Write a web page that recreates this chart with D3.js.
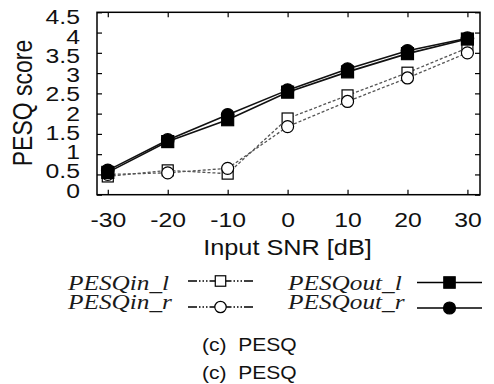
<!DOCTYPE html>
<html>
<head>
<meta charset="utf-8">
<script src="https://cdn.jsdelivr.net/npm/d3@7"></script>
<style>
  body { margin: 0; background: #fff; }
  svg { display: block; }
</style>
</head>
<body>
<div id="chart"></div>
<script>
// PESQ score vs input SNR

const SNR = [-30, -20, -10, 0, 10, 20, 30];
const PESQ_IN_L = [0.45, 0.60, 0.52, 1.88, 2.45, 3.01, 3.62];
const PESQ_IN_R = [0.50, 0.54, 0.65, 1.68, 2.30, 2.88, 3.50];
const PESQ_OUT_L = [0.55, 1.31, 1.85, 2.53, 3.03, 3.48, 3.84];
const PESQ_OUT_R = [0.60, 1.35, 1.97, 2.58, 3.10, 3.55, 3.86];
const Y_TICKS = [0, 0.5, 1, 1.5, 2, 2.5, 3, 3.5, 4, 4.5];

const FRAME_WIDTH = 494;
const FRAME_HEIGHT = 384;
const STRETCH = 1.18;   // the original figure is squeezed vertically

const X_SCALE = d3.scaleLinear().domain([-31.8, 32.1]).range([97, 480]);
const Y_SCALE = d3.scaleLinear().domain([0, 4.5]).range([194.7, 12.3]);
// tick labels sit a little tighter than the ticks
const Y_LABEL = d3.scaleLinear().domain([0, 4.5]).range([190.5, 17]);

const SVG = d3.select("#chart")
  .append("svg")
    .attr("width", FRAME_WIDTH)
    .attr("height", FRAME_HEIGHT);

const PLOT_L = X_SCALE.range()[0], PLOT_R = X_SCALE.range()[1];
const PLOT_T = Y_SCALE.range()[1], PLOT_B = Y_SCALE.range()[0];

// plain labels: "4" not "4.0", hyphen instead of unicode minus
const plain = (d) => String(d);

// ticks on all four sides, pointing inward
const xb = SVG.append("g")
  .attr("transform", "translate(0," + PLOT_B + ")")
  .call(d3.axisBottom(X_SCALE).tickValues(SNR).tickFormat(plain).tickSizeInner(-5).tickSizeOuter(0));
xb.selectAll("text")
  .attr("y", 0).attr("dy", 0)
  .attr("transform", "translate(0,32) scale(" + STRETCH + ",1)");

SVG.append("g")
  .attr("transform", "translate(0," + PLOT_T + ")")
  .call(d3.axisTop(X_SCALE).tickValues(SNR).tickSizeInner(-5).tickSizeOuter(0).tickFormat(""));

const yl = SVG.append("g")
  .attr("transform", "translate(" + PLOT_L + ",0)")
  .call(d3.axisLeft(Y_SCALE).tickValues(Y_TICKS).tickFormat(plain).tickSizeInner(-5).tickSizeOuter(0));
yl.selectAll("text")
  .attr("x", 0)
  .attr("transform", (d) => "translate(-17," + (Y_LABEL(d) - Y_SCALE(d)) + ") scale(" + STRETCH + ",1)");

SVG.append("g")
  .attr("transform", "translate(" + PLOT_R + ",0)")
  .call(d3.axisRight(Y_SCALE).tickValues(Y_TICKS).tickSizeInner(-5).tickSizeOuter(0).tickFormat(""));

SVG.selectAll(".domain").remove();
SVG.selectAll(".tick line").attr("stroke", "#000").attr("stroke-width", 1.2);
SVG.selectAll(".tick text")
  .attr("font-family", "'Liberation Sans', Arial, sans-serif")
  .attr("font-size", 21)
  .attr("fill", "#111");

// plot frame
SVG.append("rect")
  .attr("x", PLOT_L).attr("y", PLOT_T)
  .attr("width", PLOT_R - PLOT_L).attr("height", PLOT_B - PLOT_T)
  .attr("fill", "none").attr("stroke", "#000").attr("stroke-width", 1.5);

// axis titles
SVG.append("text")
  .attr("transform", "translate(287.5,255) scale(1.15,1)")
  .attr("text-anchor", "middle")
  .attr("font-family", "'Liberation Sans', Arial, sans-serif")
  .attr("font-size", 22)
  .attr("fill", "#111")
  .text("Input SNR [dB]");

SVG.append("text")
  .attr("transform", "translate(32,103) rotate(-90) scale(1," + STRETCH + ")")
  .attr("text-anchor", "middle")
  .attr("font-family", "'Liberation Sans', Arial, sans-serif")
  .attr("font-size", 23)
  .attr("fill", "#111")
  .text("PESQ score");

// series
const SERIES = [
  {name: "PESQin_l", values: PESQ_IN_L, marker: "square", filled: false},
  {name: "PESQin_r", values: PESQ_IN_R, marker: "circle", filled: false},
  {name: "PESQout_r", values: PESQ_OUT_R, marker: "circle", filled: true},
  {name: "PESQout_l", values: PESQ_OUT_L, marker: "square", filled: true}
];

const line = d3.line()
  .x((d) => X_SCALE(d.x))
  .y((d) => Y_SCALE(d.y));

function drawMarker(g, s, cx, cy, scale) {
  const k = scale || 1;
  if (s.marker === "square") {
    const side = (s.filled ? 12 : 11) * k;
    g.append("rect")
      .attr("x", cx - side / 2).attr("y", cy - side / 2)
      .attr("width", side).attr("height", side)
      .attr("fill", s.filled ? "#000" : "#fff")
      .attr("stroke", "#000").attr("stroke-width", 1.2);
  } else {
    g.append("circle")
      .attr("cx", cx).attr("cy", cy)
      .attr("r", (s.filled ? 6.3 : 6) * k)
      .attr("fill", s.filled ? "#000" : "#fff")
      .attr("stroke", "#000").attr("stroke-width", 1.2);
  }
}

SERIES.forEach((s) => {
  const pts = SNR.map((x, i) => ({x: x, y: s.values[i]}));
  const g = SVG.append("g");
  g.append("path")
    .datum(pts)
    .attr("d", line)
    .attr("fill", "none")
    .attr("stroke", s.filled ? "#111" : "#555")
    .attr("stroke-width", s.filled ? 1.6 : 1.3)
    .attr("stroke-dasharray", s.filled ? null : "3,2");
  pts.forEach((p) => drawMarker(g, s, X_SCALE(p.x), Y_SCALE(p.y)));
});

// legend
const LEGEND = [
  {s: SERIES[0], tx: 68, ty: 290, x1: 188, x2: 253, ly: 281},
  {s: SERIES[1], tx: 68, ty: 309, x1: 188, x2: 253, ly: 307},
  {s: SERIES[3], tx: 288, ty: 290, x1: 417, x2: 482, ly: 282.5},
  {s: SERIES[2], tx: 288, ty: 309, x1: 417, x2: 482, ly: 308}
];

LEGEND.forEach((l) => {
  const g = SVG.append("g");
  g.append("text")
    .attr("transform", "translate(" + l.tx + "," + l.ty + ") scale(1.15,1)")
    .attr("font-family", "'Liberation Serif', 'Times New Roman', serif")
    .attr("font-style", "italic")
    .attr("font-size", 22)
    .attr("fill", "#1a1a1a")
    .text(l.s.name);
  const mid = (l.x1 + l.x2) / 2;
  // draw both halves from the outside in so the dash pattern is mirrored
  [l.x1, l.x2].forEach((xa) => {
    g.append("line")
      .attr("x1", xa).attr("x2", mid)
      .attr("y1", l.ly).attr("y2", l.ly)
      .attr("stroke", "#000")
      .attr("stroke-width", 1.3)
      .attr("stroke-dasharray", l.s.filled ? null : "9,2,1.5,2,1.5,2,1.5,2");
  });
  drawMarker(g, l.s, mid, l.ly, 0.95);
});

// captions
[350.5, 379].forEach((y) => {
  SVG.append("text")
    .attr("transform", "translate(202," + y + ") scale(1.17,1)")
    .attr("font-family", "'Liberation Sans', Arial, sans-serif")
    .attr("font-size", 18)
    .attr("fill", "#111")
    .style("white-space", "pre")
    .text("(c)  PESQ");
});
</script>
</body>
</html>
